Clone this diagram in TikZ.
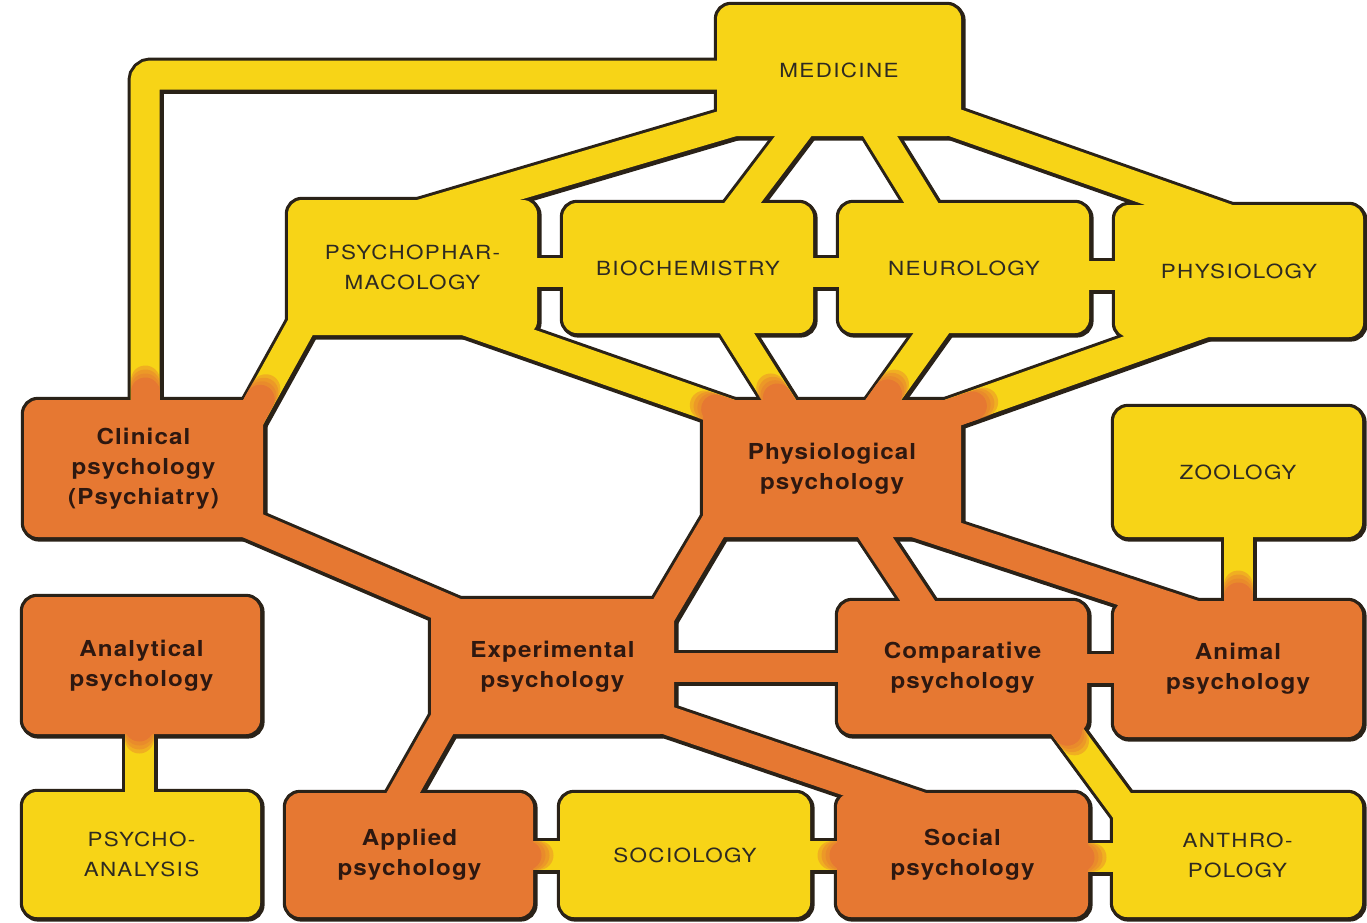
\documentclass[tikz,border=0pt]{standalone}
\usepackage{fontspec}
\usetikzlibrary{calc}
\newfontfamily\yfont[FakeStretch=1.15,LetterSpace=7]{TeX Gyre Heros}
\newfontfamily\ofont[FakeStretch=1.1,LetterSpace=5]{TeX Gyre Heros}
\definecolor{Y}{HTML}{F7D417}
\definecolor{O}{HTML}{E67832}
\definecolor{D}{HTML}{2A2218}
\definecolor{TY}{HTML}{2E2A22}
\definecolor{TO}{HTML}{2E1810}
\pgfdeclarelayer{bgL}
\pgfdeclarelayer{edge}
\pgfdeclarelayer{fillL}
\pgfsetlayers{bgL,edge,fillL,main}
\tikzset{
 box/.style={rectangle, rounded corners=14, inner sep=0pt, align=center},
 ybox/.style={box, fill=Y, text=TY, font=\yfont\fontsize{19.5}{30}\selectfont},
 obox/.style={box, fill=O, text=TO, font=\ofont\bfseries\fontsize{22}{30}\selectfont},
 bandedge/.style={line width=35, draw=D},
 yband/.style={line width=29, draw=Y},
 oband/.style={line width=29, draw=O},
 otrans/.style={line width=29, draw=O, line cap=round},
 boxedge/.style={line width=6, draw=D, rounded corners=14},
}
\newcommand\otr[2]{%
 \draw[otrans] (#1) -- ($(#2)!6pt!(#1)$);
 \foreach \d in {2pt,-2pt,-6pt} {\draw[otrans, opacity=.4] (#1) -- ($(#2)!\d!(#1)$);}%
}
\newcommand\bandpaths{%
 \draw[yb, rounded corners=6] (c1a) -- (c1b) -- (c1c);
 \draw[yb] (c2a) -- (c2b);
 \draw[yb] (c3a) -- (c3b);
 \draw[yb] (c4a) -- (c4b);
 \draw[yb] (c5a) -- (c5b);
 \draw[yb] (c6a) -- (c6b);
 \draw[yb] (c7a) -- (c7b);
 \draw[yb] (c8a) -- (c8b);
 \draw[yb] (c9a) -- (c9b);
 \draw[yb] (c10a) -- (c10b);
 \draw[yb] (c11a) -- (c11b);
 \draw[yb] (c12a) -- (c12b);
 \draw[yb] (c13a) -- (c13b);
 \draw[ob] (c14a) -- (c14b);
 \draw[ob] (c15a) -- (c15b);
 \draw[ob] (c16a) -- (c16b);
 \draw[ob] (c17a) -- (c17b);
 \draw[yb] (c18a) -- (c18b);
 \draw[ob] (c19a) -- (c19b);
 \draw[ob] (c20a) -- (c20b);
 \draw[ob] (c21a) -- (c21b);
 \draw[ob] (c22a) -- (c22b);
 \draw[yb] (c23a) -- (c23b);
 \draw[yb] (c24a) -- (c24b);
 \draw[yb] (c25a) -- (c25b);
 \draw[yb] (c26a) -- (c26b);
 \draw[yb] (c27a) -- (c27b);
}
\newcommand\boxoutlines{%
 \foreach \n in {med,psy,bio,neu,phy,cli,pps,zoo,ana,exp,com,ani,pan,app,soc,spy,ant}
  {\draw[boxedge] (\n.north west) rectangle (\n.south east);}
}
\begin{document}
\begin{tikzpicture}[x=1pt,y=-1pt]
\begin{pgfonlayer}{bgL}
\fill[white] (0,0) rectangle (1367,922);
\end{pgfonlayer}
\useasboundingbox (0,0) rectangle (1367,922);
% boxes
\node[ybox, minimum width=244, minimum height=131] (med) at (839,70.5) {MEDICINE};
\node[ybox, minimum width=249, minimum height=135] (psy) at (412.5,267.5) {PSYCHOPHAR-\\MACOLOGY};
\node[ybox, minimum width=250, minimum height=130] (bio) at (688,268) {BIOCHEMISTRY};
\node[ybox, minimum width=250, minimum height=130] (neu) at (964,268) {NEUROLOGY};
\node[ybox, minimum width=248, minimum height=132] (phy) at (1239,271) {PHYSIOLOGY};
\node[obox, minimum width=239, minimum height=137] (cli) at (143.5,468.5) {Clinical\\psychology\\(Psychiatry)};
\node[obox, minimum width=258, minimum height=137] (pps) at (832,468.5) {Physiological\\psychology};
\node[ybox, minimum width=248, minimum height=130] (zoo) at (1238,472) {ZOOLOGY};
\node[obox, minimum width=237, minimum height=137] (ana) at (141.5,665.5) {Analytical\\psychology};
\node[obox, minimum width=243, minimum height=135] (exp) at (552.5,666.5) {Experimental\\psychology};
\node[obox, minimum width=249, minimum height=133] (com) at (962.5,667.5) {Comparative\\psychology};
\node[obox, minimum width=248, minimum height=136] (ani) at (1238,669) {Animal\\psychology};
\node[ybox, minimum width=237, minimum height=125] (pan) at (141.5,854.5) {PSYCHO-\\ANALYSIS};
\node[obox, minimum width=247, minimum height=124] (app) at (409.5,855) {Applied\\psychology};
\node[ybox, minimum width=250, minimum height=124] (soc) at (685,855) {SOCIOLOGY};
\node[obox, minimum width=251, minimum height=124] (spy) at (962.5,855) {Social\\psychology};
\node[ybox, minimum width=249, minimum height=124] (ant) at (1237.5,855) {ANTHRO-\\POLOGY};
% connector end points
\coordinate (c1a) at (740,75); \coordinate (c1b) at (145,75); \coordinate (c1c) at (145,430);
\coordinate (c2a) at (380,226); \coordinate (c2b) at (760,114);
\coordinate (c3a) at (813,110); \coordinate (c3b) at (722,230);
\coordinate (c4a) at (864,110); \coordinate (c4b) at (938,230);
\coordinate (c5a) at (930,114); \coordinate (c5b) at (1280,237);
\coordinate (c6a) at (500,272); \coordinate (c6b) at (600,272);
\coordinate (c7a) at (780,272); \coordinate (c7b) at (870,272);
\coordinate (c8a) at (1050,275); \coordinate (c8b) at (1150,275);
\coordinate (c9a) at (310,310); \coordinate (c9b) at (238,440);
\coordinate (c10a) at (440,312); \coordinate (c10b) at (760,424);
\coordinate (c11a) at (716,300); \coordinate (c11b) at (798,430);
\coordinate (c12a) at (955,300); \coordinate (c12b) at (862,430);
\coordinate (c13a) at (1230,314); \coordinate (c13b) at (920,424);
\coordinate (c14a) at (230,516); \coordinate (c14b) at (480,623);
\coordinate (c15a) at (726,505); \coordinate (c15b) at (646,640);
\coordinate (c16a) at (854,505); \coordinate (c16b) at (937,630);
\coordinate (c17a) at (900,518); \coordinate (c17b) at (1210,620);
\coordinate (c18a) at (1238,510); \coordinate (c18b) at (1238,630);
\coordinate (c19a) at (640,667); \coordinate (c19b) at (870,667);
\coordinate (c20a) at (1060,668); \coordinate (c20b) at (1140,668);
\coordinate (c21a) at (640,711); \coordinate (c21b) at (940,813);
\coordinate (c22a) at (453,705); \coordinate (c22b) at (385,825);
\coordinate (c23a) at (1048,705); \coordinate (c23b) at (1140,830);
\coordinate (c24a) at (500,855); \coordinate (c24b) at (600,855);
\coordinate (c25a) at (780,855); \coordinate (c25b) at (870,855);
\coordinate (c26a) at (1060,857); \coordinate (c26b) at (1140,857);
\coordinate (c27a) at (139,710); \coordinate (c27b) at (139,810);
% colour transition points
\coordinate (t1) at (145,386);
\coordinate (t9) at (263,394);
\coordinate (t10) at (710,407);
\coordinate (t11) at (774,393);
\coordinate (t12) at (891,389);
\coordinate (t13) at (978,404);
\coordinate (t18) at (1238,591);
\coordinate (t23) at (1071,736);
\coordinate (t24) at (533,855);
\coordinate (t25) at (838,855);
\coordinate (t26) at (1086,857);
\coordinate (t27) at (139,733);
% outlines
\begin{pgfonlayer}{edge}
 \begin{scope}[transform canvas={shift={(1.4pt,-1.4pt)}}, yb/.style={bandedge}, ob/.style={bandedge}]
  \bandpaths \boxoutlines
 \end{scope}
 \begin{scope}[yb/.style={bandedge}, ob/.style={bandedge}]
  \bandpaths \boxoutlines
 \end{scope}
\end{pgfonlayer}
% band fills
\begin{pgfonlayer}{fillL}
 \begin{scope}[yb/.style={yband}, ob/.style={oband}]
  \bandpaths
 \end{scope}
 \otr{c1c}{t1}
 \otr{c9b}{t9}
 \otr{c10b}{t10}
 \otr{c11b}{t11}
 \otr{c12b}{t12}
 \otr{c13b}{t13}
 \otr{c18b}{t18}
 \otr{c23a}{t23}
 \otr{c24a}{t24}
 \otr{c25b}{t25}
 \otr{c26a}{t26}
 \otr{c27a}{t27}
\end{pgfonlayer}
\end{tikzpicture}
\end{document}
